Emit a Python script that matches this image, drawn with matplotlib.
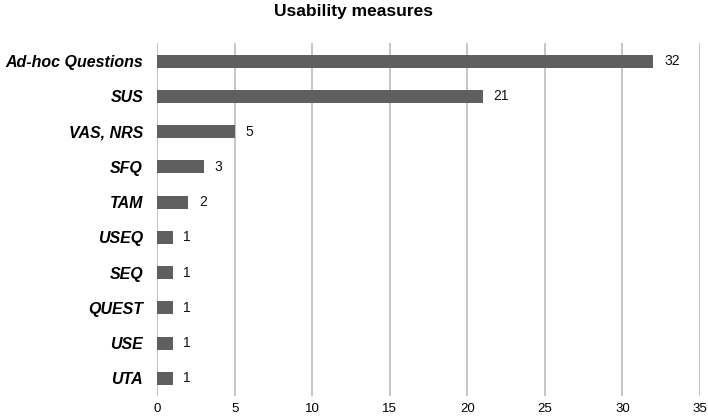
import matplotlib.pyplot as plt

plt.rcParams['font.family'] = ['Liberation Sans', 'DejaVu Sans']

# data (top to bottom)
measures = ['Ad-hoc Questions', 'SUS', 'VAS, NRS', 'SFQ', 'TAM',
            'USEQ', 'SEQ', 'QUEST', 'USE', 'UTA']
counts = [32, 21, 5, 3, 2, 1, 1, 1, 1, 1]
xticks = [0, 5, 10, 15, 20, 25, 30, 35]

fig = plt.figure(figsize=(7.08, 4.18), dpi=100)
ax = fig.add_axes([0.2218, 0.0526, 0.7669, 0.8434])

ypos = list(range(len(measures)))[::-1]
ax.barh(ypos, counts, height=0.37, color='#5f5f5f', zorder=3)

for y, c in zip(ypos, counts):
    ax.text(c + 0.7, y, str(c), va='center', ha='left', fontsize=10, color='#111111')

ax.set_xlim(0, 35)
ax.set_ylim(-0.5, len(measures) - 0.5)
ax.set_xticks(xticks)
ax.set_yticks(ypos)
ax.set_yticklabels(measures, fontsize=11.5, fontweight='bold', fontstyle='italic')
ax.tick_params(axis='both', length=0)
ax.tick_params(axis='y', pad=10)
ax.tick_params(axis='x', labelsize=9.5, pad=5)

ax.grid(axis='x', color='#bbbbbb', linewidth=1.2, zorder=0)
for s in ax.spines.values():
    s.set_visible(False)

fig.text(0.5, 0.99, 'Usability measures', ha='center', va='top',
         fontsize=12.5, fontweight='bold')

fig.savefig('out.png', dpi=100)
